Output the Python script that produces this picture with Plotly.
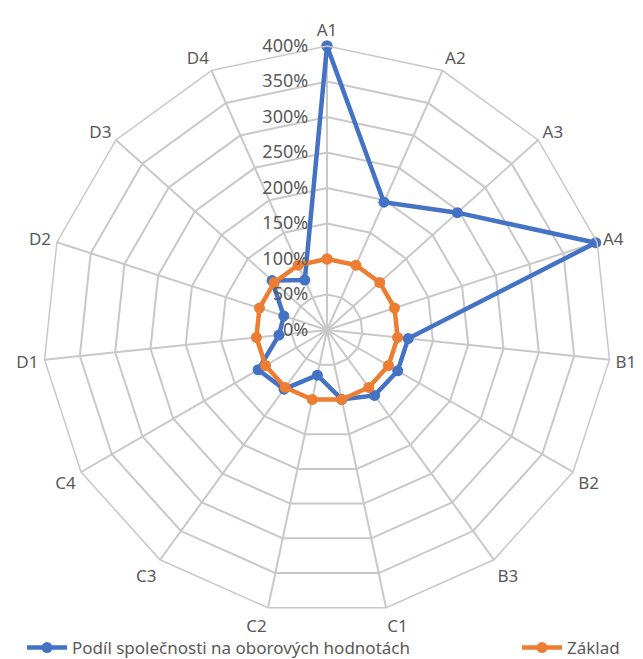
import plotly.graph_objects as go

categories = ["A1", "A2", "A3", "A4", "B1", "B2", "B3", "C1", "C2", "C3", "C4", "D1", "D2", "D3", "D4"]
podil = [4.00, 1.97, 2.47, 3.98, 1.15, 1.15, 1.14, 1.00, 0.65, 1.03, 1.12, 0.68, 0.64, 1.04, 0.77]
zaklad = [1.00] * 15
radial_ticks = [0, 0.5, 1.0, 1.5, 2.0, 2.5, 3.0, 3.5, 4.0]

W, H = 643, 659
cx, cy, R = 327, 330, 284

fig = go.Figure()
fig.add_trace(go.Scatterpolar(
    r=podil + [podil[0]], theta=categories + [categories[0]],
    mode="lines+markers", name="Podíl společnosti na oborových hodnotách",
    line=dict(color="#4472C4", width=4.5), marker=dict(color="#4472C4", size=11),
    legend="legend",
))
fig.add_trace(go.Scatterpolar(
    r=zaklad + [zaklad[0]], theta=categories + [categories[0]],
    mode="lines+markers", name="Základ",
    line=dict(color="#ED7D31", width=4.5), marker=dict(color="#ED7D31", size=11),
    legend="legend2",
))

leg_common = dict(orientation="h", yanchor="middle", y=1 - 648 / H,
                  font=dict(size=17, color="#595959", family="Noto Sans"),
                  bgcolor="rgba(0,0,0,0)", itemwidth=40)

fig.update_layout(
    width=W, height=H,
    margin=dict(l=0, r=0, t=0, b=0, autoexpand=False),
    paper_bgcolor="white",
    showlegend=True,
    font=dict(family="Noto Sans", color="#595959", size=14),
    polar=dict(
        domain=dict(x=[(cx - R) / W, (cx + R) / W], y=[1 - (cy + R) / H, 1 - (cy - R) / H]),
        bgcolor="white",
        gridshape="linear",
        angularaxis=dict(
            direction="clockwise", rotation=90, categoryorder="array", categoryarray=categories,
            gridcolor="#c8c8c8", gridwidth=1.5, linecolor="#c8c8c8", linewidth=1.5,
            showline=True, ticks="outside", ticklen=2, tickcolor="rgba(0,0,0,0)",
            tickfont=dict(size=17, color="#595959"),
        ),
        radialaxis=dict(
            range=[0, 4], tickvals=radial_ticks, tickformat=".0%", angle=90, tickangle=90,
            side="counterclockwise",
            gridcolor="#c8c8c8", gridwidth=1.5, showline=False, ticks="outside",
            ticklen=12, tickcolor="rgba(0,0,0,0)",
            tickfont=dict(size=18, color="#595959"),
        ),
    ),
    legend=dict(x=22 / W, xanchor="left", **leg_common),
    legend2=dict(x=625 / W, xanchor="right", **leg_common),
)

fig.write_html("out.html")
